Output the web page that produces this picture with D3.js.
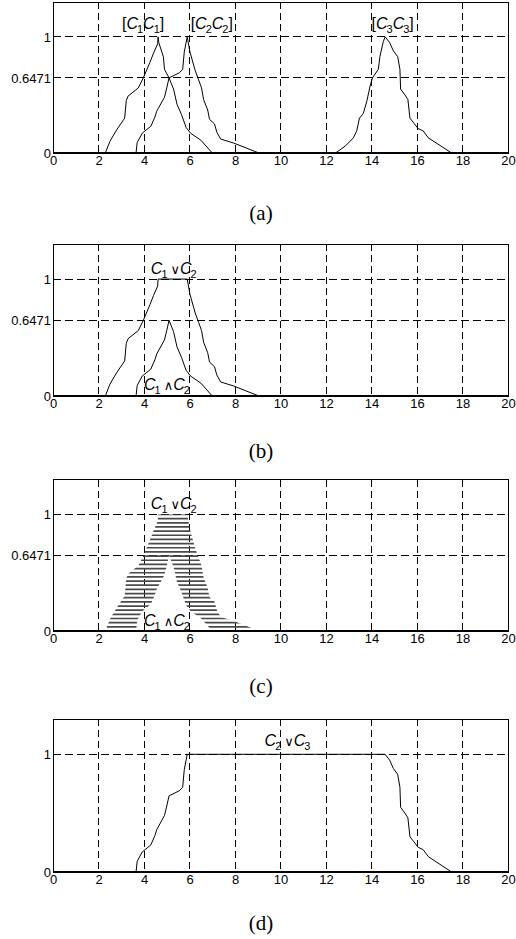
<!DOCTYPE html>
<html>
<head>
<meta charset="utf-8">
<script src="https://cdn.jsdelivr.net/npm/d3@7"></script>
<style>
  body { margin: 0; background: #fff; }
  svg { display: block; }
</style>
</head>
<body>
<svg width="516" height="939"></svg>
<script>
// membership functions
var C1 = [[2.3,0],[2.5,0.1],[2.8,0.2],[3.15,0.3],[3.22,0.45],[3.3,0.49],[3.75,0.56],[3.97,0.647],
          [4.26,0.78],[4.42,0.86],[4.6,0.94],[4.62,1],[4.65,0.95],[4.85,0.83],[4.9,0.72],[5.1,0.647],
          [5.3,0.55],[5.45,0.42],[5.65,0.33],[5.85,0.22],[6.05,0.17],[6.5,0.11],[7.0,0]];
var C2 = [[3.65,0],[3.7,0.09],[3.92,0.17],[4.3,0.23],[4.48,0.31],[4.56,0.36],[4.9,0.48],[5.0,0.56],
          [5.1,0.647],[5.55,0.69],[5.7,0.72],[5.77,0.87],[5.9,1],[6.02,0.87],[6.25,0.71],[6.4,0.63],
          [6.53,0.56],[6.62,0.46],[6.8,0.37],[6.88,0.29],[7.1,0.25],[7.2,0.18],[7.37,0.12],[7.95,0.085],[9.05,0]];
var C3 = [[12.42,0],[12.85,0.06],[13.2,0.13],[13.35,0.19],[13.47,0.3],[13.64,0.34],[13.8,0.45],[13.93,0.57],
          [14.04,0.647],[14.3,0.72],[14.37,0.83],[14.52,0.96],[14.6,1],[14.8,0.95],[14.96,0.88],[15.15,0.83],
          [15.25,0.72],[15.28,0.55],[15.47,0.5],[15.6,0.46],[15.69,0.3],[15.85,0.26],[16.05,0.21],[16.27,0.19],
          [16.5,0.13],[17.52,0]];

// union / intersection pieces (b, c, d)
var union12 = C1.filter(d => d[0] <= 4.62).concat(C2.filter(d => d[0] >= 5.9));
var inter12 = C2.filter(d => d[0] <= 5.1).concat(C1.filter(d => d[0] > 5.1));
var union23 = C2.filter(d => d[0] <= 5.9).concat(C3.filter(d => d[0] >= 14.6));

var xTicks = [0,2,4,6,8,10,12,14,16,18,20];
var yTicksABC = [0, 0.6471, 1];
var yTicksD = [0, 1];
var captions = ["(a)", "(b)", "(c)", "(d)"];

var svg = d3.select("svg");
var left = 53, right = 508;
var panels = [
  {top: 2, bottom: 153, yt: yTicksABC, cap: 220},
  {top: 244, bottom: 396, yt: yTicksABC, cap: 458},
  {top: 479.5, bottom: 631, yt: yTicksABC, cap: 693},
  {top: 719, bottom: 872, yt: yTicksD, cap: 930}
];

var x = d3.scaleLinear().domain([0, 20]).range([left, right]);

// label: parts = [text, kind]; kind "i" italic, "s" subscript, "o" operator, "" upright
function label(g, xs, ys, px, py, parts) {
  var t = g.append("text")
    .attr("x", xs(px)).attr("y", ys(py))
    .attr("font-family", "Liberation Sans, Arial, DejaVu Sans, sans-serif")
    .attr("font-size", 16);
  var shift = 0;
  parts.forEach(function(p) {
    var ts = t.append("tspan").text(p[0]);
    if (p[1] === "i") {
      ts.attr("font-style", "italic").attr("dy", -shift); shift = 0;
    } else if (p[1] === "s") {
      ts.attr("font-size", 11).attr("dy", 4 - shift).attr("dx", -1); shift = 4;
    } else if (p[1] === "o") {
      ts.attr("font-size", 13).attr("dy", -shift).attr("dx", 3)
        .attr("font-family", "DejaVu Sans, sans-serif");
      shift = 0;
    } else {
      ts.attr("dy", -shift); shift = 0;
    }
  });
}

panels.forEach(function(p, i) {
  var y = d3.scaleLinear().domain([0, 1.3]).range([p.bottom, p.top]);
  var g = svg.append("g");

  // grid
  g.selectAll(".vg").data(xTicks.slice(1, -1)).join("line")
    .attr("x1", d => x(d)).attr("x2", d => x(d))
    .attr("y1", p.top).attr("y2", p.bottom)
    .attr("stroke", "#000").attr("stroke-width", 1)
    .attr("stroke-dasharray", "7,4").attr("shape-rendering", "crispEdges");
  g.selectAll(".hg").data(p.yt.filter(d => d > 0)).join("line")
    .attr("x1", left).attr("x2", right)
    .attr("y1", d => y(d)).attr("y2", d => y(d))
    .attr("stroke", "#000").attr("stroke-width", 1)
    .attr("stroke-dasharray", "8,4").attr("shape-rendering", "crispEdges");

  var line = d3.line().x(d => x(d[0])).y(d => y(d[1]));

  if (i === 0) {
    [C1, C2, C3].forEach(function(c) {
      g.append("path").datum(c).attr("d", line)
        .attr("fill", "none").attr("stroke", "#000").attr("stroke-width", 1);
    });
    label(g, x, y, 3.03, 1.07, [["[", ""], ["C", "i"], ["1", "s"], ["C", "i"], ["1", "s"], ["]", ""]]);
    label(g, x, y, 6.05, 1.07, [["[", ""], ["C", "i"], ["2", "s"], ["C", "i"], ["2", "s"], ["]", ""]]);
    label(g, x, y, 14.0, 1.07, [["[", ""], ["C", "i"], ["3", "s"], ["C", "i"], ["3", "s"], ["]", ""]]);
  } else if (i === 1) {
    [union12, inter12].forEach(function(c) {
      g.append("path").datum(c).attr("d", line)
        .attr("fill", "none").attr("stroke", "#000").attr("stroke-width", 1);
    });
    label(g, x, y, 4.3, 1.045, [["C", "i"], ["1", "s"], ["\u2228", "o"], ["C", "i"], ["2", "s"]]);
    label(g, x, y, 4.0, 0.05, [["C", "i"], ["1", "s"], ["\u2227", "o"], ["C", "i"], ["2", "s"]]);
  } else if (i === 2) {
    var cp = svg.append("clipPath").attr("id", "hatchClip");
    cp.append("path")
      .attr("d", line(union12) + "Z" + line(inter12) + "Z")
      .attr("clip-rule", "evenodd");
    var hatch = d3.range(1, 29).map(k => k / 28);
    g.append("g").attr("clip-path", "url(#hatchClip)")
      .selectAll("line").data(hatch).join("line")
      .attr("x1", left).attr("x2", right)
      .attr("y1", d => y(d)).attr("y2", d => y(d))
      .attr("stroke", "#4a4a4a").attr("stroke-width", 1.7);
    label(g, x, y, 4.3, 1.045, [["C", "i"], ["1", "s"], ["\u2228", "o"], ["C", "i"], ["2", "s"]]);
    label(g, x, y, 4.0, 0.045, [["C", "i"], ["1", "s"], ["\u2227", "o"], ["C", "i"], ["2", "s"]]);
  } else {
    g.append("path").datum(union23).attr("d", line)
      .attr("fill", "none").attr("stroke", "#000").attr("stroke-width", 1);
    label(g, x, y, 9.3, 1.07, [["C", "i"], ["2", "s"], ["\u2228", "o"], ["C", "i"], ["3", "s"]]);
  }

  // frame
  g.append("rect").attr("x", left).attr("y", p.top)
    .attr("width", right - left).attr("height", p.bottom - p.top)
    .attr("fill", "none").attr("stroke", "#000").attr("stroke-width", 1)
    .attr("shape-rendering", "crispEdges");
  g.append("line").attr("x1", left).attr("x2", right)
    .attr("y1", p.bottom).attr("y2", p.bottom)
    .attr("stroke", "#000").attr("stroke-width", 2);

  // axes
  var xa = g.append("g").attr("transform", "translate(0," + p.bottom + ")")
    .call(d3.axisBottom(x).tickValues(xTicks).tickSize(0).tickPadding(3).tickFormat(d3.format("d")));
  var ya = g.append("g").attr("transform", "translate(" + left + ",0)")
    .call(d3.axisLeft(y).tickValues(p.yt).tickSize(0).tickPadding(2)
      .tickFormat(d => d === 0 ? "0" : d === 1 ? "1" : "0.6471"));
  [xa, ya].forEach(function(a) {
    a.select(".domain").remove();
    a.selectAll("text").attr("font-family", "Liberation Sans, Arial, sans-serif")
      .attr("font-size", 13).attr("fill", "#000");
  });

  svg.append("text").attr("x", 261).attr("y", p.cap)
    .attr("text-anchor", "middle")
    .attr("font-family", "Liberation Serif, Times New Roman, serif")
    .attr("font-size", 21).text(captions[i]);
});
</script>
</body>
</html>
